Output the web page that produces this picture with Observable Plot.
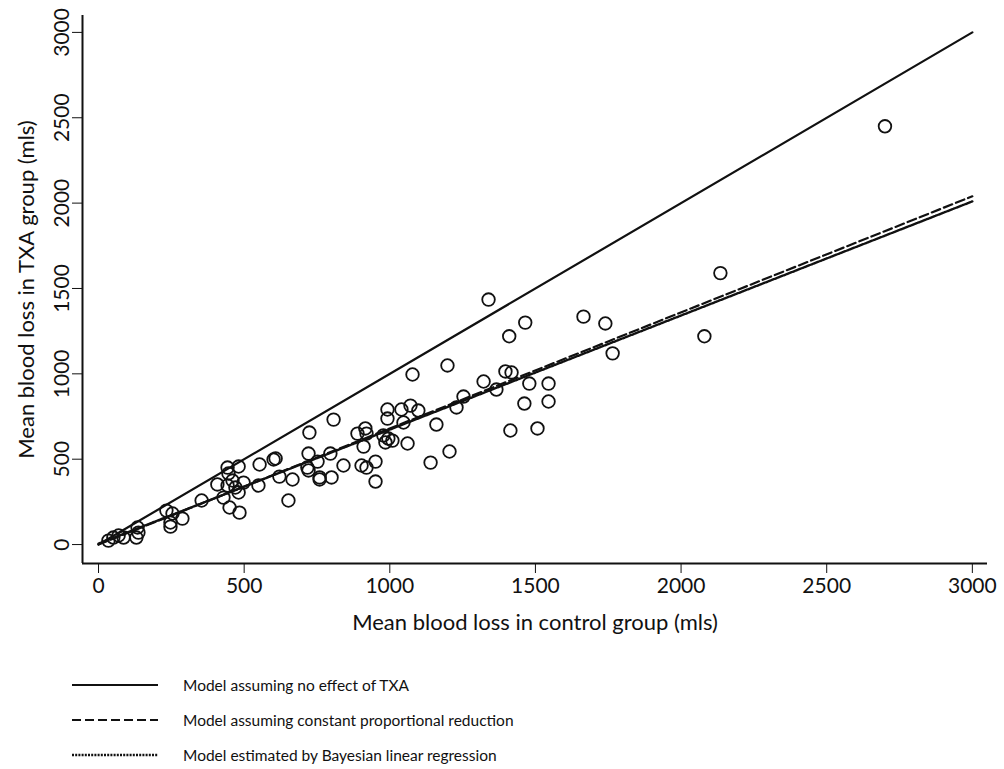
<!DOCTYPE html>
<html>
<head>
<meta charset="utf-8">
<script src="https://cdn.jsdelivr.net/npm/d3@7"></script>
<script src="https://cdn.jsdelivr.net/npm/@observablehq/plot@0.6"></script>
<style>
  body { margin: 0; background: #fff; font-family: Lato, "Open Sans", sans-serif; }
  #legend { padding-top: 22px; }
  .row { display: flex; align-items: center; height: 35px; }
  .row svg { margin-left: 72px; margin-right: 25px; }
  .row span { font-size: 15.5px; color: #111; }
</style>
</head>
<body>
<div id="chart"></div>
<div id="legend"></div>
<script>
// Study points: mean blood loss (mls)
const controlLoss = [2700,2135,2080,1665,1740,1765,1339,1465,1410,1397,1418,1479,1545,1545,1462,1414,1507,1366,1322,1253,1229,1198,1078,1098,1071,1040,992,992,1047,1160,978,995,985,1009,1061,1205,1140,951,951,889,916,920,910,903,920,841,807,724,721,796,601,608,553,717,721,752,759,759,800,666,621,549,652,443,481,446,408,443,460,498,470,481,429,450,484,354,288,233,254,247,247,134,130,137,34,51,69,86];
const txaLoss = [2450,1590,1220,1335,1295,1120,1435,1300,1220,1014,1008,943,943,838,826,668,680,908,955,867,803,1049,996,785,814,791,791,738,715,703,639,621,598,609,592,545,480,486,369,650,680,650,574,463,451,463,732,656,533,533,498,504,469,451,434,486,393,381,393,381,398,346,258,451,457,416,352,346,375,363,334,305,275,217,187,258,152,199,182,129,105,100,41,70,23,41,53,41];

// Model lines (endpoints)
const modelX = [0, 3000];
const noEffectY = [0, 3000];
const proportionalY = [0, 2040];
const bayesY = [5, 2010];

const tickValues = [0, 500, 1000, 1500, 2000, 2500, 3000];
const modelNames = ["Model assuming no effect of TXA", "Model assuming constant proportional reduction", "Model estimated by Bayesian linear regression"];
const modelDash = ["none", "9,4", "2,1.2"];

const points = controlLoss.map((c, i) => ({c, t: txaLoss[i]}));
const lineData = (ys) => modelX.map((x, i) => ({x, y: ys[i]}));

const chart = Plot.plot({
  width: 1004,
  height: 645,
  marginLeft: 82,
  marginRight: 17,
  marginTop: 15,
  marginBottom: 82,
  style: {fontFamily: "Lato, 'Open Sans', sans-serif", color: "#111", background: "#fff"},
  x: {domain: [-55, 3052]},
  y: {domain: [-111, 3099]},
  marks: [
    Plot.ruleX([-55], {y1: -111, y2: 3099, stroke: "#111", strokeWidth: 2}),
    Plot.ruleY([-111], {x1: -55, x2: 3052, stroke: "#111", strokeWidth: 2}),
    Plot.axisX({ticks: tickValues, tickSize: 10, tickPadding: 5, fontSize: 21, tickFormat: d => String(d), label: null}),
    Plot.axisY({ticks: tickValues, tickSize: 10, tickPadding: 4, fontSize: 21, tickRotate: -90, tickFormat: d => String(d), label: null}),
    Plot.axisX({ticks: [], tickSize: 0, fontSize: 22,
      label: "Mean blood loss in control group (mls)", labelAnchor: "center", labelArrow: "none", labelOffset: 66}),
    Plot.axisY({ticks: [], tickSize: 0, fontSize: 22,
      label: "Mean blood loss in TXA group (mls)", labelAnchor: "center", labelArrow: "none", labelOffset: 64}),
    Plot.line(lineData(noEffectY), {x: "x", y: "y", stroke: "#111", strokeWidth: 2.2}),
    Plot.line(lineData(proportionalY), {x: "x", y: "y", stroke: "#111", strokeWidth: 2.2, strokeDasharray: modelDash[1]}),
    Plot.line(lineData(bayesY), {x: "x", y: "y", stroke: "#111", strokeWidth: 2.4, strokeDasharray: modelDash[2]}),
    Plot.dot(points, {x: "c", y: "t", r: 6.3, stroke: "#111", strokeWidth: 1.8, fill: "none"})
  ]
});
document.getElementById("chart").appendChild(chart);

const legend = document.getElementById("legend");
modelNames.forEach((name, i) => {
  const row = document.createElement("div");
  row.className = "row";
  row.innerHTML = `<svg width="86" height="6"><line x1="0" x2="86" y1="3" y2="3" stroke="#111" stroke-width="${i === 2 ? 2.4 : 2}" ${modelDash[i] === 'none' ? '' : `stroke-dasharray="${modelDash[i]}"`}/></svg><span>${name}</span>`;
  legend.appendChild(row);
});
</script>
</body>
</html>
